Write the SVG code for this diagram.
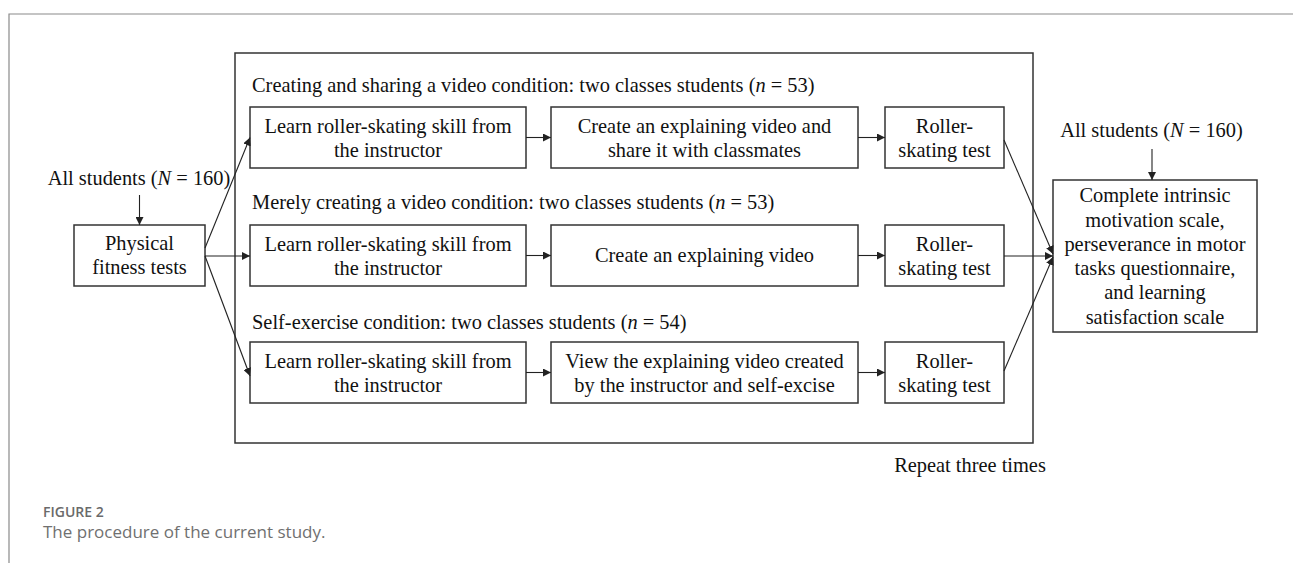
<svg xmlns="http://www.w3.org/2000/svg" width="1293" height="563" viewBox="0 0 1293 563">
<style>
.t{font-family:"Liberation Serif","Times New Roman",serif;font-size:20.4px;fill:#111;text-anchor:middle}
.h{font-family:"Liberation Serif","Times New Roman",serif;font-size:20.4px;fill:#111}
.b{fill:#fff;stroke:#333;stroke-width:1.5}
.c{stroke:#222;stroke-width:1.1;fill:none}
</style>
<defs>
<marker id="ah" viewBox="0 0 10 10" refX="10" refY="5" markerWidth="8" markerHeight="8" markerUnits="userSpaceOnUse" orient="auto"><path d="M0,0 L10,5 L0,10 z" fill="#222"/></marker>
</defs>
<rect width="1293" height="563" fill="#fff"/>
<path d="M9,563 V14 H1293" fill="none" stroke="#8a8a8a" stroke-width="1.2"/>
<g id="frame"><rect x="235" y="53" width="798" height="390" fill="none" stroke="#333" stroke-width="1.5"/></g>
<g id="headers">
<text class="h" x="252" y="92">Creating and sharing a video condition: two classes students (<tspan font-style="italic">n</tspan> = 53)</text>
<text class="h" x="252" y="209">Merely creating a video condition: two classes students (<tspan font-style="italic">n</tspan> = 53)</text>
<text class="h" x="252" y="329">Self-exercise condition: two classes students (<tspan font-style="italic">n</tspan> = 54)</text>
</g>
<g id="allLeft"><text class="t" x="139" y="185">All students (<tspan font-style="italic">N</tspan> = 160)</text></g>
<g id="allRight"><text class="t" x="1151.5" y="137">All students (<tspan font-style="italic">N</tspan> = 160)</text></g>
<g id="physical"><rect class="b" x="74" y="225" width="131" height="61"/><text class="t" x="139.5" y="250">Physical</text><text class="t" x="139.5" y="274">fitness tests</text></g>
<g id="learn1"><rect class="b" x="250" y="107" width="276" height="61"/><text class="t" x="388" y="133">Learn roller-skating skill from</text><text class="t" x="388" y="157">the instructor</text></g>
<g id="create1"><rect class="b" x="551" y="107" width="307" height="61"/><text class="t" x="704.5" y="133">Create an explaining video and</text><text class="t" x="704.5" y="157">share it with classmates</text></g>
<g id="test1"><rect class="b" x="885" y="107" width="119" height="61"/><text class="t" x="944.5" y="133">Roller-</text><text class="t" x="944.5" y="157">skating test</text></g>
<g id="learn2"><rect class="b" x="250" y="225" width="276" height="61"/><text class="t" x="388" y="251">Learn roller-skating skill from</text><text class="t" x="388" y="275">the instructor</text></g>
<g id="create2"><rect class="b" x="551" y="225" width="307" height="61"/><text class="t" x="704.5" y="262">Create an explaining video</text></g>
<g id="test2"><rect class="b" x="885" y="225" width="119" height="61"/><text class="t" x="944.5" y="251">Roller-</text><text class="t" x="944.5" y="275">skating test</text></g>
<g id="learn3"><rect class="b" x="250" y="342" width="276" height="61"/><text class="t" x="388" y="368">Learn roller-skating skill from</text><text class="t" x="388" y="392">the instructor</text></g>
<g id="create3"><rect class="b" x="551" y="342" width="307" height="61"/><text class="t" x="704.5" y="368">View the explaining video created</text><text class="t" x="704.5" y="392">by the instructor and self-excise</text></g>
<g id="test3"><rect class="b" x="885" y="342" width="119" height="61"/><text class="t" x="944.5" y="368">Roller-</text><text class="t" x="944.5" y="392">skating test</text></g>
<g id="final"><rect class="b" x="1053" y="180" width="204" height="152"/>
<text class="t" x="1155" y="202">Complete intrinsic</text>
<text class="t" x="1155" y="227">motivation scale,</text>
<text class="t" x="1155" y="251">perseverance in motor</text>
<text class="t" x="1155" y="275">tasks questionnaire,</text>
<text class="t" x="1155" y="299">and learning</text>
<text class="t" x="1155" y="324">satisfaction scale</text>
</g>
<g id="connectors">
<path class="c" d="M139.5,195 V225" marker-end="url(#ah)"/>
<path class="c" d="M1152,149 V180" marker-end="url(#ah)"/>
<path class="c" d="M205,248 L250,137.5" marker-end="url(#ah)"/>
<path class="c" d="M205,256 H250" marker-end="url(#ah)"/>
<path class="c" d="M205,256 L250,376" marker-end="url(#ah)"/>
<path class="c" d="M526,137.5 H551" marker-end="url(#ah)"/>
<path class="c" d="M858,137.5 H885" marker-end="url(#ah)"/>
<path class="c" d="M526,255.5 H551" marker-end="url(#ah)"/>
<path class="c" d="M858,255.5 H885" marker-end="url(#ah)"/>
<path class="c" d="M526,372.5 H551" marker-end="url(#ah)"/>
<path class="c" d="M858,372.5 H885" marker-end="url(#ah)"/>
<path class="c" d="M1004,140 L1053,254" marker-end="url(#ah)"/>
<path class="c" d="M1004,256 H1053" marker-end="url(#ah)"/>
<path class="c" d="M1004,371 L1053,257" marker-end="url(#ah)"/>
</g>
<g id="repeat"><text class="t" x="970" y="472">Repeat three times</text></g>
<g id="caption">
<text x="43" y="517" font-family="'Open Sans',sans-serif" font-size="14" font-weight="600" fill="#6a6a6a">FIGURE 2</text>
<text x="43" y="538" font-family="'Open Sans',sans-serif" font-size="17" fill="#707070">The procedure of the current study.</text>
</g>
</svg>
